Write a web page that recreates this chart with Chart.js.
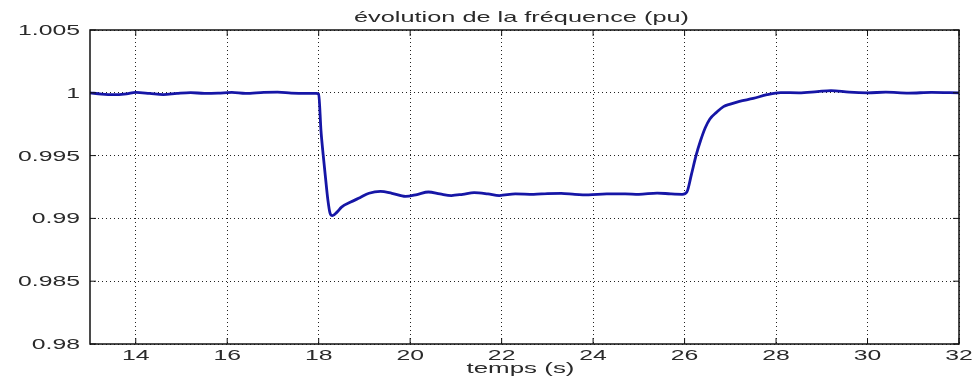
<!DOCTYPE html>
<html>
<head>
<meta charset="utf-8">
<script src="https://cdn.jsdelivr.net/npm/chart.js@4"></script>
<style>
  html, body { margin: 0; padding: 0; background: #fff; }
  #wrap { width: 975px; height: 383px; }
</style>
</head>
<body>
<div id="wrap"><canvas id="freqChart"></canvas></div>
<script>
const titleText = 'évolution de la fréquence (pu)';
const xLabel = 'temps (s)';

const xTicks = [14, 16, 18, 20, 22, 24, 26, 28, 30, 32];
const yTicks = [0.98, 0.985, 0.99, 0.995, 1, 1.005];

// time (s)
const temps = [13.0, 13.25, 13.5, 13.8, 14.0, 14.3, 14.6, 14.9, 15.2, 15.5, 15.8, 16.1, 16.4, 16.8, 17.1, 17.4, 17.7, 17.95,
  18.0, 18.05, 18.1, 18.15, 18.2, 18.25, 18.3, 18.4, 18.5, 18.7, 18.9, 19.1, 19.35, 19.6, 19.9, 20.15, 20.4, 20.65, 20.9,
  21.15, 21.4, 21.7, 21.95, 22.3, 22.7, 23.0, 23.3, 23.6, 23.9, 24.3, 24.7, 25.0, 25.4, 25.7, 25.95,
  26.05, 26.15, 26.25, 26.35, 26.45, 26.55, 26.7, 26.85, 27.0, 27.2, 27.5, 27.8, 28.1, 28.5, 28.9, 29.2, 29.6, 30.0,
  30.4, 30.9, 31.4, 32.0];

// frequency (pu)
const frequence = [1.0000, 0.99990, 0.99985, 0.99992, 1.00003, 0.99995, 0.99985, 0.99995, 1.00002, 0.99995, 0.99997, 1.00003, 0.99995, 1.00003, 1.00005, 0.99998, 0.99995, 0.99995,
  0.9999, 0.9970, 0.9950, 0.9932, 0.9915, 0.9904, 0.99022, 0.9905, 0.9909, 0.9913, 0.99165, 0.9920, 0.99215, 0.9920, 0.99175, 0.9919, 0.9921, 0.99195, 0.99182,
  0.99192, 0.99205, 0.99195, 0.99182, 0.99195, 0.99192, 0.99198, 0.99200, 0.99192, 0.99188, 0.99195, 0.99195, 0.99192, 0.99202, 0.99195, 0.99192,
  0.9921, 0.9935, 0.9950, 0.9962, 0.9972, 0.9979, 0.99845, 0.9989, 0.9991, 0.99932, 0.99955, 0.99985, 1.00002, 1.00000, 1.00010, 1.00018, 1.00005, 1.00000,
  1.00005, 0.99998, 1.00003, 1.00000];

const FONT = '15px "Liberation Sans", Arial, sans-serif';

// text in the screenshot is stretched sideways, so draw it scaled
function wideText(ctx, txt, x, y, align, k) {
  ctx.save();
  ctx.translate(x, y);
  ctx.scale(k, 1);
  ctx.textAlign = align;
  ctx.textBaseline = 'alphabetic';
  ctx.fillText(txt, 0, 0);
  ctx.restore();
}

const fmtY = v => String(parseFloat(v.toFixed(3)));

// box, inward ticks and all the texts (matlab style)
const matlabBox = {
  id: 'matlabBox',
  afterDraw(chart) {
    const ctx = chart.ctx;
    const a = chart.chartArea;
    const xs = chart.scales.x, ys = chart.scales.y;
    ctx.save();
    ctx.strokeStyle = '#111';
    ctx.lineWidth = 1.5;
    ctx.strokeRect(a.left, a.top, a.right - a.left, a.bottom - a.top);
    ctx.lineWidth = 1;
    ctx.beginPath();
    xTicks.forEach(v => {
      const px = xs.getPixelForValue(v);
      ctx.moveTo(px, a.bottom); ctx.lineTo(px, a.bottom - 6);
      ctx.moveTo(px, a.top); ctx.lineTo(px, a.top + 6);
    });
    yTicks.forEach(v => {
      const py = ys.getPixelForValue(v);
      ctx.moveTo(a.left, py); ctx.lineTo(a.left + 6, py);
      ctx.moveTo(a.right, py); ctx.lineTo(a.right - 6, py);
    });
    ctx.stroke();

    ctx.fillStyle = '#2a2a2a';
    ctx.font = FONT;
    const kTitle = 335 / ctx.measureText(titleText).width;
    const kTick = 62 / ctx.measureText('0.985').width;
    const kLabel = 108 / ctx.measureText(xLabel).width;
    const mid = (a.left + a.right) / 2;
    wideText(ctx, titleText, mid - 3, 22, 'center', kTitle);
    xTicks.forEach(v => {
      wideText(ctx, String(v), xs.getPixelForValue(v), 360, 'center', kTick);
    });
    yTicks.forEach(v => {
      wideText(ctx, fmtY(v), a.left - 10, ys.getPixelForValue(v) + 5, 'right', kTick);
    });
    wideText(ctx, xLabel, mid - 4, 373, 'center', kLabel);
    ctx.restore();
  }
};

const ctx = document.getElementById('freqChart').getContext('2d');
const myChart = new Chart(ctx, {
  type: 'scatter',
  data: {
    datasets: [{
      data: temps.map((t, i) => ({ x: t, y: frequence[i] })),
      showLine: true,
      borderColor: '#1616a6',
      borderWidth: 2.8,
      pointRadius: 0,
      cubicInterpolationMode: 'monotone'
    }]
  },
  options: {
    responsive: true,
    maintainAspectRatio: false,
    animation: false,
    layout: { padding: { top: 30, right: 16, left: 0, bottom: 0 } },
    plugins: { legend: { display: false }, tooltip: { enabled: false } },
    scales: {
      x: {
        type: 'linear',
        min: 13, max: 32,
        afterBuildTicks: s => { s.ticks = xTicks.map(v => ({ value: v })); },
        afterFit: s => { s.height = 39; },
        ticks: { display: false },
        grid: { color: '#222', lineWidth: 1, drawTicks: false },
        border: { display: false, dash: [1, 3] }
      },
      y: {
        min: 0.98, max: 1.005,
        afterBuildTicks: s => { s.ticks = yTicks.map(v => ({ value: v })); },
        afterFit: s => { s.width = 90; },
        ticks: { display: false },
        grid: { color: '#222', lineWidth: 1, drawTicks: false },
        border: { display: false, dash: [1, 3] }
      }
    }
  },
  plugins: [matlabBox]
});
</script>
</body>
</html>
